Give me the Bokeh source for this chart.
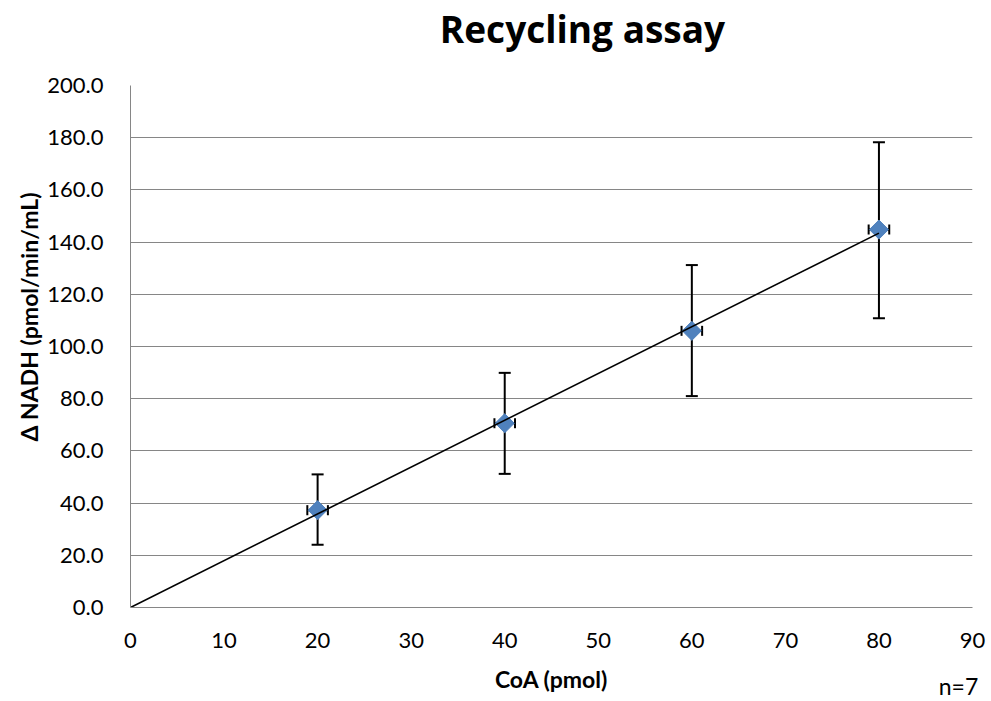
import math
from bokeh.plotting import figure
from bokeh.models import (Range1d, FixedTicker, NumeralTickFormatter, Whisker,
                          TeeHead, ColumnDataSource, Label, Title)
from bokeh.embed import file_html
from bokeh.resources import INLINE

# CoA amount (pmol) and measured NADH change (pmol/min/mL), n=7
coa = [20, 40, 60, 80]
nadh = [37.3, 70.6, 106.0, 144.8]
nadh_low = [24.0, 51.2, 81.0, 110.8]
nadh_high = [51.0, 89.9, 131.2, 178.3]
coa_err = [1.1, 1.1, 1.1, 1.1]

y_ticks = [0, 20, 40, 60, 80, 100, 120, 140, 160, 180, 200]
x_ticks = [0, 10, 20, 30, 40, 50, 60, 70, 80, 90]

FONT = "Lato"
GRAY = "#868686"
BLUE = "#4F81BD"

src = ColumnDataSource(dict(
    x=coa, y=nadh, lo=nadh_low, hi=nadh_high,
    xlo=[c - e for c, e in zip(coa, coa_err)],
    xhi=[c + e for c, e in zip(coa, coa_err)],
))

p = figure(width=991, height=701, output_backend="svg", toolbar_location=None,
           x_range=Range1d(0, 90), y_range=Range1d(0, 200),
           title_location=None,
           min_border_left=130, min_border_right=19,
           min_border_top=85, min_border_bottom=94)
p.outline_line_color = None
p.background_fill_color = "white"
p.border_fill_color = "white"

# axes
for ax in (p.xaxis[0], p.yaxis[0]):
    ax.axis_line_color = GRAY
    ax.axis_line_width = 1
    ax.major_tick_out = 0
    ax.major_tick_in = 0
    ax.minor_tick_out = 0
    ax.minor_tick_in = 0
    ax.major_label_text_font = FONT
    ax.major_label_text_font_size = "22px"
    ax.major_label_text_color = "black"

p.xaxis.ticker = FixedTicker(ticks=x_ticks)
p.yaxis.ticker = FixedTicker(ticks=y_ticks)
p.yaxis.formatter = NumeralTickFormatter(format="0.0")
p.xaxis.major_label_standoff = 25
p.yaxis.major_label_standoff = 27

p.xaxis.axis_label = "CoA (pmol)"
p.xaxis.axis_label_text_font = FONT
p.xaxis.axis_label_text_font_size = "23px"
p.xaxis.axis_label_text_font_style = "bold"
p.xaxis.axis_label_text_color = "black"
p.xaxis.axis_label_standoff = 14

# vertical axis title, placed slightly above the middle of the plot area
ytitle = Title(text="Δ NADH (pmol/min/mL)", align="right", offset=107,
               text_font=FONT, text_font_size="23px", text_font_style="bold",
               text_color="black", standoff=4)
p.add_layout(ytitle, "left")

p.xgrid.grid_line_color = None
p.ygrid.grid_line_color = GRAY
p.ygrid.grid_line_width = 1

# error bars (behind the markers)
def tee(size):
    return TeeHead(size=size, line_color="black", line_width=2)

wv = Whisker(source=src, base="x", lower="lo", upper="hi", dimension="height",
             line_color="black", line_width=2, level="underlay",
             lower_head=tee(12), upper_head=tee(12))
wh = Whisker(source=src, base="y", lower="xlo", upper="xhi", dimension="width",
             line_color="black", line_width=2, level="underlay",
             lower_head=tee(10), upper_head=tee(10))
p.add_layout(wv)
p.add_layout(wh)

p.scatter("x", "y", source=src, marker="square", size=13.5, angle=math.pi / 4,
          fill_color=BLUE, line_color=BLUE)

# linear trend line through the origin
slope = sum(a * b for a, b in zip(coa, nadh)) / sum(a * a for a in coa)
p.line([0, max(coa)], [0, slope * max(coa)], line_color="black", line_width=1.6)

# chart title and sample-size note, positioned in pixels from the top panels
title = Label(x=452, y=57, x_units="screen", y_units="screen",
              text="Recycling assay", text_font="Open Sans",
              text_font_size="37px", text_font_style="bold", text_color="black",
              text_align="center", text_baseline="alphabetic")
note = Label(x=828, y=-651, x_units="screen", y_units="screen", text="n=7",
             text_font=FONT, text_font_size="23px", text_color="black",
             text_align="center", text_baseline="alphabetic")
p.add_layout(title, "above")
p.add_layout(note, "above")

open("out.html", "w").write(file_html(p, INLINE))
